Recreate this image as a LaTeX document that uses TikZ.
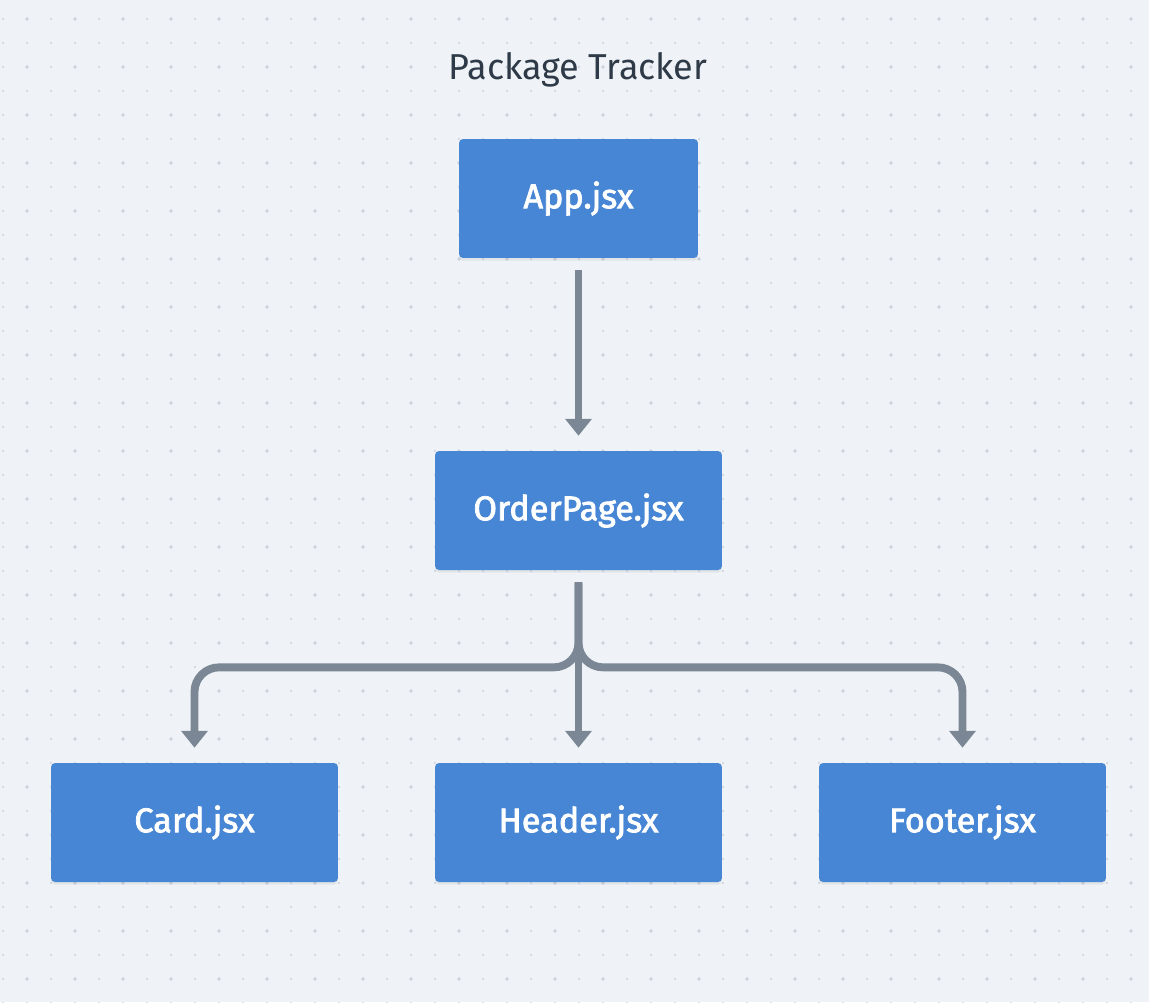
\documentclass[tikz,border=0pt]{standalone}
\usepackage{fontspec}
\setmainfont{Fira Sans}
\newfontfamily\boxfont{Fira Sans}[FakeBold=2.2]
\usetikzlibrary{arrows.meta,shadows}
\definecolor{bgcol}{HTML}{EFF3F7}
\definecolor{dotcol}{HTML}{C9D1DB}
\definecolor{boxcol}{HTML}{4786D5}
\definecolor{linecol}{HTML}{7B8794}
\definecolor{titlecol}{HTML}{2E3A47}
\begin{document}
\begin{tikzpicture}[x=0.02cm,y=-0.02cm,
		file box/.style={fill=boxcol,rounded corners=2.3pt,inner sep=0pt,minimum height=2.38cm,minimum width=5.74cm,
			text=white,font=\boxfont\fontsize{19.5}{22}\selectfont,drop shadow={opacity=0.12,shadow xshift=0pt,shadow yshift=-1.5pt}},
		flow/.style={draw=linecol,line width=4.5pt,-{Triangle[width=14.7pt,length=9.6pt]},shorten <=6.8pt,shorten >=8.5pt}]
		\useasboundingbox[fill=bgcol] (0,0) rectangle (1149,1002); %page
		\foreach \i in {0,...,47} {\foreach \j in {0,...,41} {
			\pgfmathsetmacro{\r}{(isodd(\i) && !isodd(\j)) ? 1.9 : 1.2}
			\fill[dotcol] (3+24*\i,19+24*\j) circle (\r);}} %dotted grid
		\node[text=titlecol,font=\fontsize{20.5}{24}\selectfont] (title) at (578,70) {Package Tracker}; %title
		\node[file box,minimum width=4.78cm] (app) at (578.5,198.5) {App.jsx};
		\node[file box] (orderpage) at (578.5,510.5) {OrderPage.jsx};
		\node[file box] (card) at (194.5,822.5) {Card.jsx};
		\node[file box] (header) at (578.5,822.5) {Header.jsx};
		\node[file box] (footer) at (962.5,822.5) {Footer.jsx};
		\draw[flow] (app) -- (orderpage); %main arrow
		\draw[flow] (orderpage) -- (header);
		\draw[flow,rounded corners=14pt] (orderpage.south) -- ++(0,97) -| (card.north); %left branch
		\draw[flow,rounded corners=14pt] (orderpage.south) -- ++(0,97) -| (footer.north); %right branch
\end{tikzpicture}
\end{document}
